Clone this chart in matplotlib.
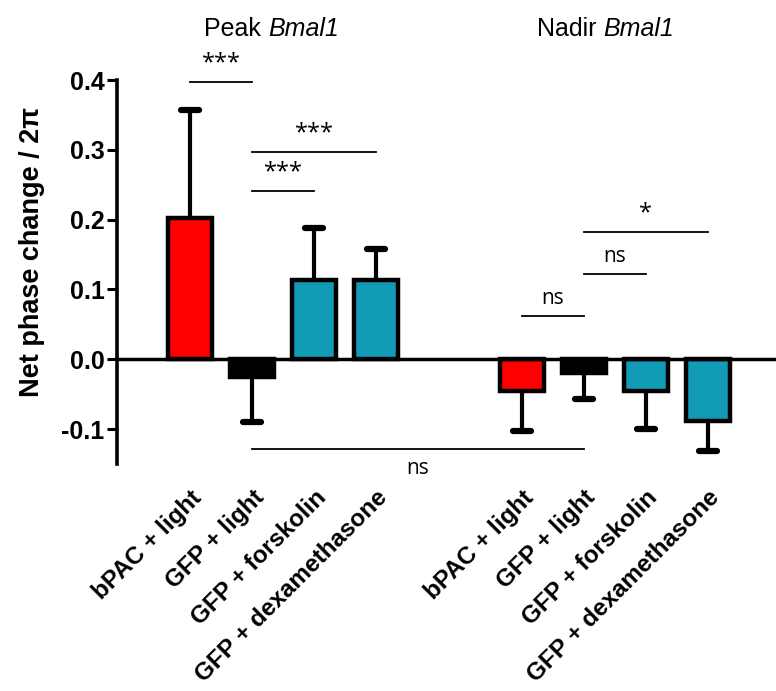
import numpy as np
import matplotlib.pyplot as plt

plt.rcParams['font.family'] = ['Liberation Sans', 'DejaVu Sans']

labels = ['bPAC + light', 'GFP + light', 'GFP + forskolin', 'GFP + dexamethasone']
peak_mean = [0.203, -0.026, 0.113, 0.113]
peak_err = [0.154, 0.064, 0.075, 0.045]
nadir_mean = [-0.046, -0.020, -0.046, -0.089]
nadir_err = [0.057, 0.037, 0.054, 0.043]
bar_colors = ['#ff0000', '#000000', '#129bb4', '#129bb4']

# significance brackets: (bar i, bar j, height, label)
brackets = [(0, 1, 0.397, '***'), (1, 3, 0.297, '***'), (1, 2, 0.241, '***'),
            (4, 5, 0.062, 'ns'), (5, 6, 0.122, 'ns'), (5, 7, 0.182, '*')]
bottom_bracket = (1, 5, -0.129, 'ns')

pos = np.r_[np.arange(4), np.arange(4) + 5.35]
means = np.r_[peak_mean, nadir_mean]
errs = np.r_[peak_err, nadir_err]
cols = bar_colors * 2

fig = plt.figure(figsize=(7.76, 6.91), dpi=100)
ax = fig.add_axes([117/776, 227/691, 1 - 117/776, 384/691])

ax.bar(pos, means, width=0.71, color=cols, edgecolor='k', linewidth=3.2, zorder=3)
for x, m, e in zip(pos, means, errs):
    end = m + np.sign(m) * e
    ax.plot([x, x], [m, end], color='k', lw=3, zorder=2)
    ax.plot([x - 0.15, x + 0.15], [end, end], color='k', lw=4.5,
            solid_capstyle='round', zorder=2)

ax.axhline(0, color='k', lw=2.5, zorder=4)

for i, j, h, t in brackets:
    ax.plot([pos[i], pos[j]], [h, h], color='k', lw=1.3, clip_on=False)
    fs = 15 if t == 'ns' else 17
    ax.text((pos[i] + pos[j]) / 2, h + 0.01, t, ha='center', va='bottom',
            fontsize=fs, family='Open Sans', clip_on=False)
i, j, h, t = bottom_bracket
ax.plot([pos[i], pos[j]], [h, h], color='k', lw=1.3, clip_on=False)
ax.text((pos[i] + pos[j]) / 2, h - 0.012, t, ha='center', va='top',
        fontsize=15, family='Open Sans', clip_on=False)

for xs, word in [(1.26, 'Peak'), (6.66, 'Nadir')]:
    ax.text(xs, 0.463, word + ' ', ha='right', va='baseline', fontsize=18)
    ax.text(xs, 0.463, 'Bmal1', ha='left', va='baseline', fontsize=18,
            style='italic')

ax.set_xlim(-1.18, 9.45)
ax.set_ylim(-0.15, 0.4)
ax.set_yticks([-0.1, 0.0, 0.1, 0.2, 0.3, 0.4])
ax.set_yticklabels(['-0.1', '0.0', '0.1', '0.2', '0.3', '0.4'],
                   fontsize=18, fontweight='bold')
ax.tick_params(axis='y', length=7, width=2.2, pad=2)
ax.set_xticks(pos)
ax.set_xticklabels(labels * 2, rotation=45, ha='right', rotation_mode='anchor',
                   fontsize=17.5, fontweight='bold')
ax.tick_params(axis='x', length=0, pad=16)

for s in ['top', 'right', 'bottom']:
    ax.spines[s].set_visible(False)
ax.spines['left'].set_linewidth(2.6)

ax.set_ylabel('Net phase change / 2π', fontsize=19.5, fontweight='bold')
ax.yaxis.set_label_coords(-0.109, 0.552)

plt.savefig('out.png', dpi=100)
